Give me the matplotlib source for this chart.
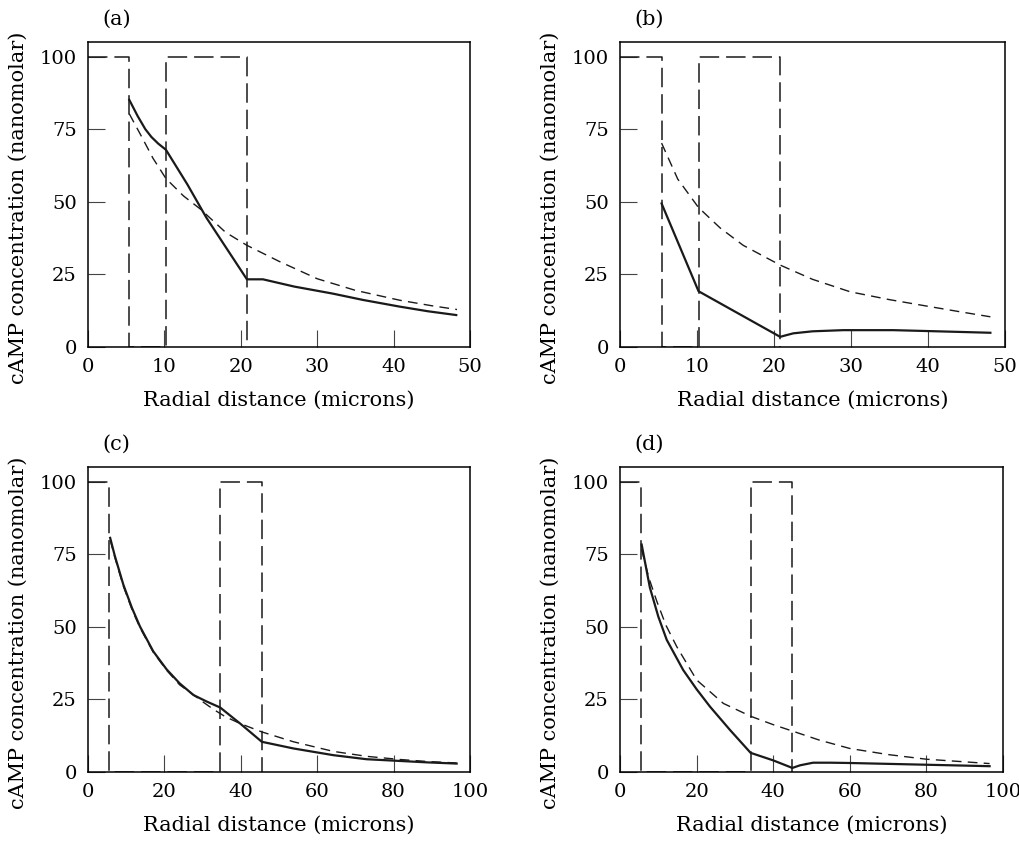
import matplotlib
matplotlib.use("Agg")
import matplotlib.pyplot as plt

plt.rcParams['font.family'] = ['DejaVu Serif']
plt.rcParams['lines.scale_dashes'] = False

# --- dados ---
painel_letras = ['(a)', '(b)', '(c)', '(d)']
xlim_paineis = [50, 50, 100, 100]
xticks_paineis = [[0, 10, 20, 30, 40, 50], [0, 10, 20, 30, 40, 50],
                  [0, 20, 40, 60, 80, 100], [0, 20, 40, 60, 80, 100]]
yticks = [0, 25, 50, 75, 100]

# bordas do pulso (caixa tracejada, nivel 100)
pulso_a = [5.4, 10.2, 20.8]
pulso_b = [5.4, 10.2, 20.8]
pulso_c = [5.6, 34.6, 45.5]
pulso_d = [5.4, 34.1, 45.0]

a_x_solido = [5.4, 6.5, 7.5, 8.3, 9.2, 10.2, 13.0, 15.5, 18.0, 20.8, 20.9, 22.9, 27.0, 32.0, 36.0, 40.8, 44.5, 48.2]
a_y_solido = [85.1, 79.5, 75.0, 72.3, 70.0, 67.9, 56.0, 44.5, 34.5, 23.3, 23.3, 23.3, 20.8, 18.4, 16.2, 13.9, 12.3, 11.0]
a_x_tracejado = [5.4, 7.0, 8.5, 10.2, 12.5, 14.7, 18.0, 20.8, 25.0, 30.0, 35.0, 40.8, 45.0, 48.3]
a_y_tracejado = [80.3, 72.5, 65.0, 58.0, 52.0, 47.5, 39.5, 35.0, 29.5, 23.5, 19.5, 16.1, 14.2, 12.9]

b_x_solido = [5.4, 10.2, 20.8, 21.5, 22.5, 25.0, 29.0, 35.5, 39.8, 44.0, 48.1]
b_y_solido = [49.4, 19.2, 3.5, 4.0, 4.7, 5.4, 5.8, 5.8, 5.5, 5.2, 4.9]
b_x_tracejado = [5.4, 7.5, 10.2, 13.0, 16.0, 20.8, 25.0, 29.9, 35.0, 39.8, 44.0, 48.1]
b_y_tracejado = [70.2, 57.8, 48.0, 41.0, 35.0, 28.2, 23.3, 19.0, 16.3, 14.1, 12.2, 10.4]

c_x_solido = [5.8, 7.0, 9.25, 11.5, 13.6, 17.1, 20.6, 24.0, 27.6, 31.0, 34.6, 40.0, 45.5, 53.8, 64.2, 72.9, 81.7, 89.0, 96.5]
c_y_solido = [80.6, 74.5, 64.5, 56.5, 50.1, 41.5, 35.3, 30.5, 26.5, 24.3, 22.2, 16.5, 10.4, 8.1, 5.8, 4.4, 3.8, 3.3, 2.9]
c_x_tracejado = [5.8, 7.0, 9.25, 11.5, 13.6, 17.1, 20.6, 24.0, 27.6, 30.0, 32.8, 36.0, 39.8, 45.5, 53.8, 64.2, 72.9, 81.7, 89.0, 96.5]
c_y_tracejado = [80.0, 74.0, 64.0, 56.0, 49.7, 41.2, 35.0, 30.0, 26.6, 24.2, 21.6, 19.0, 16.7, 13.8, 10.4, 7.1, 5.4, 4.3, 3.6, 3.1]

d_x_solido = [5.65, 7.8, 10.0, 12.2, 16.5, 20.0, 23.5, 28.7, 34.1, 40.0, 45.0, 47.0, 50.4, 55.0, 60.0, 70.0, 80.0, 90.0, 96.5]
d_y_solido = [78.3, 63.5, 53.5, 45.5, 35.1, 28.5, 22.5, 14.5, 6.6, 4.0, 1.4, 2.3, 3.2, 3.2, 3.1, 2.8, 2.5, 2.2, 2.0]
d_x_tracejado = [5.65, 7.5, 9.6, 12.0, 14.8, 20.0, 27.0, 34.1, 40.0, 45.0, 52.0, 60.0, 70.0, 80.0, 90.0, 96.5]
d_y_tracejado = [76.6, 67.0, 58.8, 50.5, 43.2, 31.7, 23.6, 19.2, 16.3, 14.1, 11.0, 8.1, 6.0, 4.4, 3.5, 2.9]

paineis = [
    (pulso_a, a_x_solido, a_y_solido, a_x_tracejado, a_y_tracejado),
    (pulso_b, b_x_solido, b_y_solido, b_x_tracejado, b_y_tracejado),
    (pulso_c, c_x_solido, c_y_solido, c_x_tracejado, c_y_tracejado),
    (pulso_d, d_x_solido, d_y_solido, d_x_tracejado, d_y_tracejado),
]

# posicoes dos eixos em pixels (esq, dir, topo, base)
L, A = 1020, 841
caixas = [(88, 470, 42, 347), (620, 1005, 42, 347),
          (88, 470, 467, 772), (620, 1003, 467, 772)]

fig = plt.figure(figsize=(L / 100, A / 100), dpi=100)

for i, (pulso, xs, ys, xt, yt) in enumerate(paineis):
    esq, dir_, topo, base = caixas[i]
    ax = fig.add_axes([esq / L, (A - base) / A, (dir_ - esq) / L, (base - topo) / A])

    # caixa do pulso
    p1, p2, p3 = pulso
    px = [0, p1, p1, p2, p2, p3, p3]
    py = [100, 100, 0, 0, 100, 100, 0]
    ax.plot(px, py, color='#1a1a1a', linewidth=1.1, dashes=(14, 5))

    ax.plot(xt, yt, color='#1a1a1a', linewidth=1.0, dashes=(7, 4.5))
    ax.plot(xs, ys, color='#1a1a1a', linewidth=1.6)

    ax.set_xlim(0, xlim_paineis[i])
    ax.set_ylim(0, 105)
    ax.set_xticks(xticks_paineis[i])
    ax.set_yticks(yticks)
    ax.tick_params(direction='in', length=12.5, width=0.8, color='#444444',
                   labelsize=14, pad=8)
    for s in ax.spines.values():
        s.set_linewidth(1.1)

    ax.set_xlabel('Radial distance (microns)', fontsize=15)
    ax.set_ylabel('cAMP concentration (nanomolar)', fontsize=15)
    ax.xaxis.set_label_coords(0.5, -0.145)
    ax.yaxis.set_label_coords(-0.157, 0.455)
    ax.text(0.037, 1.075, painel_letras[i], transform=ax.transAxes,
            ha='left', va='center', fontsize=15)

fig.savefig('out.png', dpi=100)
